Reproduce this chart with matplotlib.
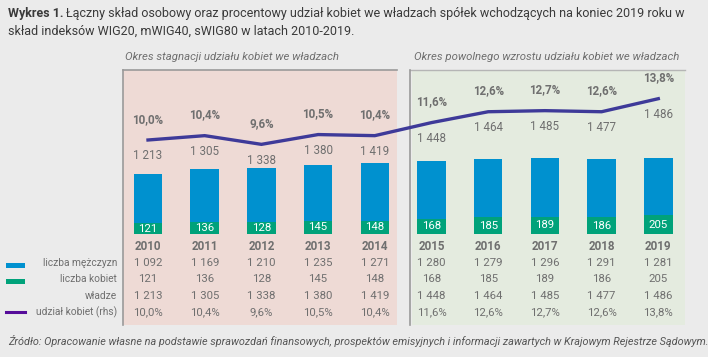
import matplotlib
matplotlib.use('Agg')
import matplotlib.pyplot as plt
from matplotlib.patches import Rectangle
from matplotlib.lines import Line2D

# ---------------- data ----------------
years = ['2010', '2011', '2012', '2013', '2014', '2015', '2016', '2017', '2018', '2019']
men = [1092, 1169, 1210, 1235, 1271, 1280, 1279, 1296, 1291, 1281]
women = [121, 136, 128, 145, 148, 168, 185, 189, 186, 205]
boards = [1213, 1305, 1338, 1380, 1419, 1448, 1464, 1485, 1477, 1486]
share = [10.0, 10.4, 9.6, 10.5, 10.4, 11.6, 12.6, 12.7, 12.6, 13.8]
row_labels = ['liczba mężczyzn', 'liczba kobiet', 'władze', 'udział kobiet (rhs)']
period_titles = ['Okres stagnacji udziału kobiet we władzach',
                 'Okres powolnego wzrostu udziału kobiet we władzach']
period_split = 5
title_bold = 'Wykres 1.'
title_line1 = 'Łączny skład osobowy oraz procentowy udział kobiet we władzach spółek wchodzących na koniec 2019 roku w'
title_line2 = 'skład indeksów WIG20, mWIG40, sWIG80 w latach 2010-2019.'
source = ('Źródło: Opracowanie własne na podstawie sprawozdań finansowych, prospektów emisyjnych '
          'i informacji zawartych w Krajowym Rejestrze Sądowym.')

# ---------------- style ----------------
FONT = ['Roboto', 'DejaVu Sans']
plt.rcParams['font.family'] = FONT
BG = '#EBEBEB'
PINK = '#EEDAD5'
GREENBG = '#E4EBDF'
BLUE = '#0091CF'
GREEN = '#00A27A'
LINE = '#3E3A99'
LEG_LINE = '#560C9A'
TXT = '#6F6F6F'
DARK = '#3A3A3A'
WOMEN_SCALE = 2.0   # visual scale of the women segment as in the original

W, H = 708, 357
fig = plt.figure(figsize=(W / 100, H / 100), dpi=100)
fig.patch.set_facecolor(BG)

def fx(px):
    return px / W

def fy(py):
    return 1 - py / H

# axes geometry (pixels)
AX_L, AX_R, AX_T, AX_B = 123, 685, 70, 325
BASE = 234          # bar baseline pixel
SPX = 0.0452        # pixels per unit
X0, DX = 148, 56.7  # first bar centre, spacing

ax = fig.add_axes([fx(AX_L), fy(AX_B), fx(AX_R - AX_L), (AX_B - AX_T) / H])
ax.set_xlim((AX_L - X0) / DX, (AX_R - X0) / DX)
ax.set_ylim(-(AX_B - BASE) / SPX, (BASE - AX_T) / SPX)
ax.axis('off')

xs = list(range(len(years)))
split_x = period_split - 0.5
xl, xr = ax.get_xlim()
gap = 0.5 * 13 / DX
ax.axvspan(xl, split_x - gap, color=PINK, zorder=0, lw=0)
ax.axvspan(split_x + gap + 0.04, xr, color=GREENBG, zorder=0, lw=0)
# borders
tr = ax.get_xaxis_transform()
ax.plot([xl, split_x - gap], [1, 1], color='#9A9A9A', lw=1.2, transform=tr, clip_on=False, zorder=1)
ax.plot([xl, xl], [0, 1], color='#9A9A9A', lw=1.2, transform=tr, clip_on=False, zorder=1)
ax.plot([split_x + gap, xr], [1, 1], color='#B5B5B5', lw=1.0, transform=tr, clip_on=False, zorder=1)
ax.plot([split_x + gap, split_x + gap], [0, 1], color='#9A9A9A', lw=1.2,
        transform=tr, clip_on=False, zorder=1)

# period headings
ax.text(xl + 2 / DX, 1 + 13 / (AX_B - AX_T), period_titles[0], transform=tr, ha='left', va='center',
        fontsize=8.2, style='italic', color=TXT)
ax.text(split_x + gap + 4 / DX, 1 + 13 / (AX_B - AX_T), period_titles[1], transform=tr,
        ha='left', va='center', fontsize=8.2, style='italic', color=TXT)

# bars
bw = 28.5 / DX
wh = [w * WOMEN_SCALE for w in women]
ax.bar(xs, wh, width=bw, color=GREEN, zorder=2, lw=0)
ax.bar(xs, men, bottom=wh, width=bw, color=BLUE, zorder=2, lw=0)
for x, w, h in zip(xs, women, wh):
    ax.text(x, h / 2, f'{w}', ha='center', va='center', color='white', fontsize=8.2, zorder=3)

def fmt_int(v):
    return f'{v:,}'.replace(',', ' ')

def fmt_pct(v):
    return f'{v:.1f}%'.replace('.', ',')

# line on right axis
ax2 = ax.twinx()
ax2.set_ylim(10 - (AX_B - 140) / 10.87, 10 + (140 - AX_T) / 10.87)
ax2.axis('off')
ax2.plot(xs, share, color=LINE, lw=2.4, zorder=4, solid_joinstyle='miter')
for x, s, b in zip(xs, share, boards):
    ax2.annotate(fmt_pct(s), (x, s), xytext=(0, 15), textcoords='offset points', ha='center',
                 va='center', fontsize=8.4, fontweight='bold', color=TXT)
    ax2.annotate(fmt_int(b), (x, s), xytext=(0, -11.5), textcoords='offset points', ha='center',
                 va='center', fontsize=8.4, color=TXT)

# table
row_px = [246.7, 263.3, 279.3, 295.7, 312.3]
def ry(p):
    return (AX_B - p) / (AX_B - AX_T)

for x, y in zip(xs, years):
    ax.text(x, ry(row_px[0]), y, transform=tr, ha='center', va='center', fontsize=8.4,
            fontweight='bold', color=TXT)
rows = [[fmt_int(v) for v in men], [str(v) for v in women], [fmt_int(v) for v in boards],
        [fmt_pct(v) for v in share]]
for r, vals in enumerate(rows):
    for x, v in zip(xs, vals):
        ax.text(x, ry(row_px[r + 1]), v, transform=tr, ha='center', va='center', fontsize=8.2, color=TXT)
    fig.text(fx(117), fy(row_px[r + 1]), row_labels[r], ha='right', va='center', fontsize=7.3, color=TXT)

# legend markers
fig.patches.append(Rectangle((fx(6), fy(267.5)), fx(19), 5 / H, transform=fig.transFigure,
                             facecolor=BLUE, edgecolor='none'))
fig.patches.append(Rectangle((fx(6), fy(283.5)), fx(19), 5 / H, transform=fig.transFigure,
                             facecolor=GREEN, edgecolor='none'))
fig.lines.append(Line2D([fx(6), fx(25)], [fy(312.3), fy(312.3)], transform=fig.transFigure,
                        color=LEG_LINE, lw=2.2))

# title
t1 = fig.text(fx(8), fy(14), title_bold, ha='left', va='center', fontsize=9, fontweight='bold', color=DARK)
fig.canvas.draw()
bb = t1.get_window_extent()
fig.text(bb.x1 / W + fx(3), fy(14), title_line1, ha='left', va='center', fontsize=9, color=DARK)
fig.text(fx(8), fy(31), title_line2, ha='left', va='center', fontsize=9, color=DARK)

fig.text(fx(8), fy(341), source, ha='left', va='center', fontsize=7.8, style='italic', color='#555555')

fig.savefig('out.png', dpi=100, facecolor=BG)
